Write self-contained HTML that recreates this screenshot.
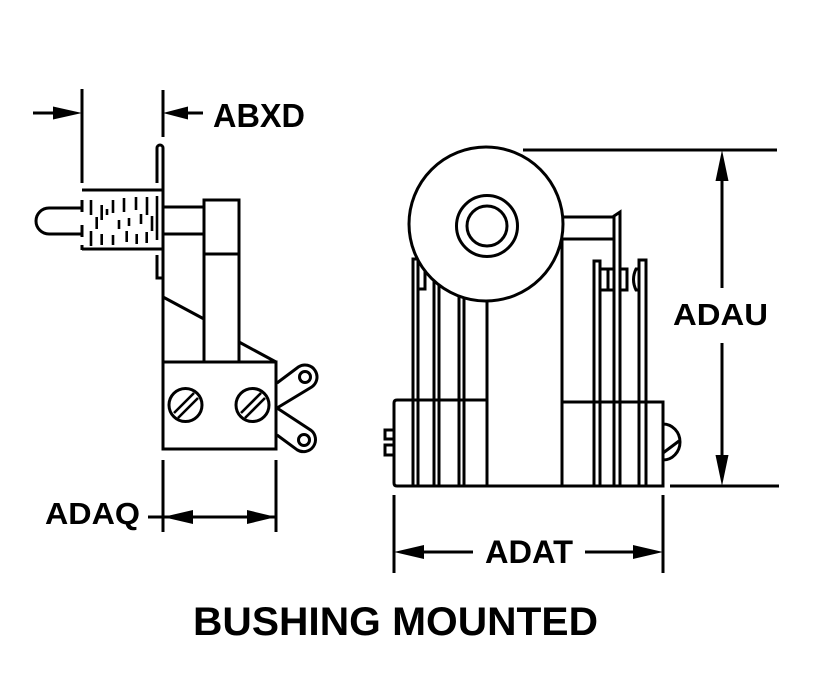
<!DOCTYPE html>
<html>
<head>
<meta charset="utf-8">
<style>
html,body{margin:0;padding:0;background:#fff;}
svg{display:block;}
text{font-family:"Liberation Sans",Arial,sans-serif;font-weight:bold;fill:#000;}
</style>
</head>
<body>
<svg width="820" height="692" viewBox="0 0 820 692" xmlns="http://www.w3.org/2000/svg">
<rect width="820" height="692" fill="#fff"/>
<g fill="none" stroke="#000" stroke-width="3" stroke-linecap="butt" stroke-linejoin="miter">

<!-- ===== LEFT VIEW ===== -->
<!-- ABXD extension lines -->
<line x1="82" y1="89" x2="82" y2="183"/>
<line x1="163" y1="90" x2="163" y2="137"/>
<line x1="33" y1="113" x2="55" y2="113"/>
<line x1="184" y1="113" x2="203" y2="113"/>

<!-- panel plate -->
<path d="M157,183 V148 A3,3 0 0 1 163,148 V449"/>
<path d="M157,255 V278 H163"/>

<!-- bushing -->
<line x1="82" y1="190" x2="163" y2="190"/>
<line x1="82" y1="249" x2="163" y2="249"/>
<line x1="82" y1="200" x2="82" y2="212"/>
<line x1="82" y1="225" x2="82" y2="237"/>
<line x1="82" y1="245" x2="82" y2="250"/>
<!-- knob -->
<path d="M82,208 H49 A13,13 0 0 0 49,234 H82"/>
<!-- hatching -->
<g stroke-width="2.6">
<line x1="91" y1="200" x2="91" y2="215"/>
<line x1="96.7" y1="217" x2="96.7" y2="229"/>
<line x1="101.7" y1="205" x2="101.7" y2="220"/>
<line x1="107" y1="209" x2="107" y2="215"/>
<line x1="113" y1="200" x2="113" y2="213"/>
<line x1="119" y1="220" x2="119" y2="229"/>
<line x1="124" y1="198" x2="124" y2="212"/>
<line x1="129" y1="218" x2="129" y2="226"/>
<line x1="136" y1="197" x2="136" y2="210"/>
<line x1="141" y1="214" x2="141" y2="224"/>
<line x1="147" y1="197" x2="147" y2="215"/>
<line x1="152" y1="216" x2="152" y2="231"/>
<line x1="157" y1="196" x2="157" y2="240"/>
<line x1="91" y1="231" x2="91" y2="246"/>
<line x1="101.7" y1="234" x2="101.7" y2="245"/>
<line x1="113" y1="235" x2="113" y2="245"/>
<line x1="126.7" y1="231" x2="126.7" y2="242"/>
<line x1="136.7" y1="234" x2="136.7" y2="244"/>
<line x1="146.7" y1="232" x2="146.7" y2="243"/>
</g>
<!-- shaft -->
<line x1="163" y1="207" x2="204" y2="207"/>
<line x1="163" y1="234" x2="204" y2="234"/>
<!-- lever -->
<path d="M204,362 V200 H239 V362"/>
<line x1="204" y1="254" x2="239" y2="254"/>
<line x1="163" y1="297" x2="204" y2="319"/>
<line x1="239" y1="342" x2="276" y2="362"/>
<!-- body -->
<rect x="163" y="362" width="113" height="87"/>
<!-- screws -->
<circle cx="185.5" cy="405" r="16.5"/>
<circle cx="252.5" cy="405" r="16.5"/>
<g stroke-width="2.6">
<line x1="174" y1="413" x2="194" y2="393"/>
<line x1="178" y1="418" x2="198" y2="398"/>
<line x1="241" y1="413" x2="261" y2="393"/>
<line x1="245" y1="418" x2="265" y2="398"/>
</g>
<!-- lugs -->
<path d="M277,383 L298.5,366.9 A12,12 0 0 1 311.5,387.1 L277,408"/>
<circle cx="305" cy="377" r="5.5"/>
<path d="M277,408 L310.9,430.2 A12,12 0 0 1 297.1,449.8 L277,435"/>
<circle cx="304" cy="440" r="5.5"/>

<!-- ADAQ dimension -->
<line x1="163" y1="460" x2="163" y2="532"/>
<line x1="276" y1="460" x2="276" y2="532"/>
<line x1="148" y1="517" x2="276" y2="517"/>

<!-- ===== RIGHT VIEW ===== -->
<!-- vertical plates -->
<path d="M413,486 V259 H418 V486"/>
<rect x="418" y="264" width="7" height="25"/>
<line x1="434" y1="270" x2="434" y2="486"/>
<line x1="439" y1="270" x2="439" y2="486"/>
<line x1="459" y1="270" x2="459" y2="486"/>
<line x1="464" y1="270" x2="464" y2="486"/>
<line x1="487" y1="270" x2="487" y2="486"/>
<line x1="562" y1="239" x2="562" y2="486"/>
<path d="M594,486 V261 H600 V486"/>
<path d="M614,486 V216 L620,212 V486"/>
<path d="M639,486 V260 H646 V486"/>
<rect x="600" y="269" width="8" height="21"/>
<rect x="608" y="269" width="6" height="21"/>
<rect x="620" y="269" width="7" height="21"/>
<path d="M639,269 H636 Q631,279.5 636,290 H639"/>
<!-- body -->
<path d="M487,400 H397 Q394,400 394,403 V483 Q394,486 397,486 H663 V402 H562"/>
<!-- knobs -->
<rect x="385" y="430" width="9" height="9"/>
<rect x="385" y="445" width="9" height="10"/>
<path d="M663,424 A17,18 0 0 1 663,460"/>
<path d="M663,453 Q671,447 679,441"/>
<!-- big circle -->
<circle cx="486" cy="224" r="77" fill="#fff"/>
<circle cx="487" cy="226" r="30.5"/>
<circle cx="487" cy="226" r="20"/>
<!-- shaft -->
<line x1="562" y1="217" x2="614" y2="217"/>
<line x1="562" y1="239" x2="614" y2="239"/>

<!-- ADAU dimension -->
<line x1="523" y1="150" x2="777" y2="150"/>
<line x1="670" y1="486" x2="779" y2="486"/>
<line x1="722" y1="175" x2="722" y2="288"/>
<line x1="722" y1="343" x2="722" y2="461"/>

<!-- ADAT dimension -->
<line x1="394" y1="495" x2="394" y2="573"/>
<line x1="663" y1="495" x2="663" y2="573"/>
<line x1="420" y1="552" x2="473" y2="552"/>
<line x1="585" y1="552" x2="637" y2="552"/>
</g>

<!-- arrowheads -->
<g fill="#000" stroke="none">
<polygon points="82,113 53,106.5 53,119.5"/>
<polygon points="163,113 188,106.5 188,119.5"/>
<polygon points="163,517 193,510 193,524"/>
<polygon points="276,517 247,510 247,524"/>
<polygon points="722,150 715.5,181 728.5,181"/>
<polygon points="722,486 715.5,455 728.5,455"/>
<polygon points="394,552 424,545 424,559"/>
<polygon points="663,552 633,545 633,559"/>
</g>

<!-- labels -->
<text x="213" y="127" font-size="33" textLength="92" lengthAdjust="spacingAndGlyphs">ABXD</text>
<text x="45" y="524" font-size="31" textLength="95" lengthAdjust="spacingAndGlyphs">ADAQ</text>
<text x="673" y="325" font-size="31" textLength="95" lengthAdjust="spacingAndGlyphs">ADAU</text>
<text x="485" y="563" font-size="32" textLength="88" lengthAdjust="spacingAndGlyphs">ADAT</text>
<text x="193" y="635" font-size="40" textLength="405" lengthAdjust="spacingAndGlyphs">BUSHING MOUNTED</text>
</svg>
</body>
</html>
